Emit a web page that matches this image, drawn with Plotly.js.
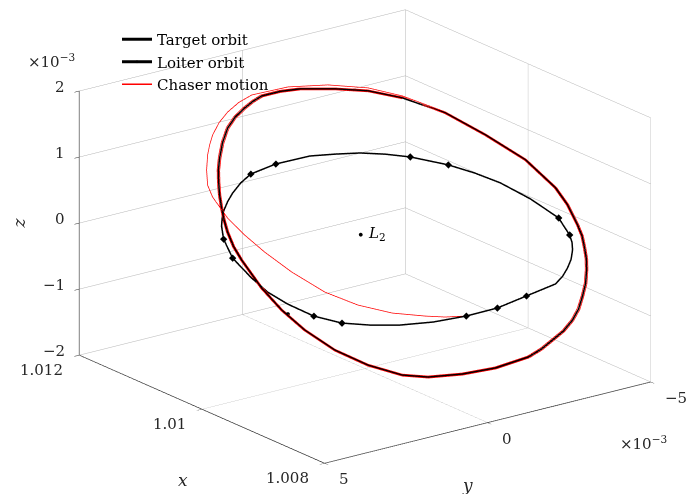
<!DOCTYPE html>
<html><head><meta charset="utf-8">
<script src="https://cdn.plot.ly/plotly-3.0.1.min.js"></script>
<style>html,body{margin:0;padding:0;background:#fff}#plot{width:686px;height:494px}</style>
</head><body><div id="plot"></div>
<script>
// ---- data (y and z in units of 1e-3, as shown on the axes) ----
var targetX = [1.010957,1.010789,1.010621,1.010424,1.010146,1.009848,1.009536,1.009258,1.009118,1.008974,1.008900,1.008830,1.008769,1.008715,1.008655,1.008610,1.008566,1.008542,1.008533,1.008542,1.008552,1.008576,1.008682,1.008811,1.008960,1.009094,1.009306,1.009536,1.009776,1.009982,1.010184,1.010414,1.010518,1.010616,1.010690,1.010760,1.010832,1.010899,1.010958,1.011010,1.011070,1.011115,1.011132,1.011130,1.011122,1.011106,1.011041,1.010957];
var targetY = [0.197,-0.564,-1.262,-1.938,-2.736,-3.406,-4.049,-4.447,-4.554,-4.590,-4.588,-4.534,-4.474,-4.379,-4.235,-4.057,-3.852,-3.622,-3.327,-3.007,-2.686,-2.332,-1.515,-0.744,0.022,0.568,1.216,1.798,2.268,2.587,2.823,3.004,3.055,3.055,3.022,2.968,2.894,2.798,2.694,2.559,2.354,2.114,1.851,1.564,1.331,1.086,0.654,0.197];
var targetZ = [1.868,1.843,1.796,1.687,1.476,1.182,0.852,0.493,0.279,0.030,-0.106,-0.252,-0.386,-0.519,-0.682,-0.831,-0.985,-1.114,-1.240,-1.341,-1.442,-1.529,-1.639,-1.688,-1.701,-1.658,-1.514,-1.309,-1.047,-0.789,-0.509,-0.157,0.012,0.191,0.338,0.485,0.644,0.801,0.946,1.090,1.276,1.447,1.575,1.677,1.750,1.810,1.851,1.868];

var loiterX = [1.010784,1.010712,1.010587,1.010476,1.010362,1.010236,1.010102,1.009882,1.009718,1.009546,1.009325,1.009099,1.008965,1.008917,1.008878,1.008840,1.008816,1.008799,1.008797,1.008878,1.008960,1.009070,1.009200,1.009344,1.009488,1.009632,1.009800,1.009982,1.010136,1.010280,1.010467,1.010602,1.010674,1.010707,1.010736,1.010762,1.010779,1.010789,1.010784];
var loiterY = [2.030,1.397,0.586,0.026,-0.528,-1.060,-1.578,-2.331,-2.823,-3.297,-3.804,-4.241,-4.326,-4.312,-4.255,-4.137,-3.984,-3.798,-3.579,-2.840,-2.102,-1.356,-0.585,0.159,0.811,1.401,1.946,2.402,2.728,2.949,3.181,3.205,3.131,3.052,2.951,2.779,2.593,2.329,2.030];
var loiterZ = [0.875,0.979,1.051,1.056,1.052,1.020,0.969,0.846,0.731,0.592,0.377,0.128,-0.085,-0.177,-0.268,-0.382,-0.482,-0.581,-0.667,-0.791,-0.916,-0.991,-1.040,-1.053,-1.032,-0.988,-0.884,-0.721,-0.562,-0.381,-0.127,0.109,0.268,0.358,0.448,0.559,0.659,0.774,0.875];
var loiterMarkerIdx = [0,1,6,7,11,12,19,20,21,25,26,30,31];

// chaser: transfer arc from the loiter orbit, then two passes close to the target orbit
var chaserX = [1.009070,1.009166,1.009267,1.009440,1.009642,1.009862,1.010117,1.010342,1.010520,1.010683,1.010856,1.010938,1.011014,1.011082,1.011120,1.011154,1.011182,1.011192,1.011185,1.011158,1.011024,1.010842,1.010635,1.010434,
 1.010149,1.009848,1.009534,1.009254,1.009113,1.008968,1.008894,1.008823,1.008762,1.008708,1.008647,1.008602,1.008557,1.008533,1.008524,1.008533,1.008543,1.008568,1.008674,1.008804,1.008954,1.009089,1.009303,1.009534,1.009776,1.009983,1.010187,1.010418,1.010523,1.010622,1.010696,1.010767,1.010839,1.010907,1.010966,1.011019,1.011079,1.011124,1.011141,1.011139,1.011131,1.011115,1.011050,1.010965,1.010796,1.010627,1.010428,
 1.010144,1.009848,1.009538,1.009262,1.009123,1.008980,1.008906,1.008837,1.008776,1.008723,1.008663,1.008618,1.008575,1.008551,1.008542,1.008551,1.008561,1.008584,1.008690,1.008818,1.008966,1.009099,1.009309,1.009538,1.009776,1.009981,1.010181,1.010410,1.010513,1.010610,1.010684,1.010753,1.010825,1.010891,1.010950,1.011001,1.011061,1.011106,1.011123,1.011121,1.011113,1.011097,1.011032,1.010949,1.010782,1.010615,1.010420];
var chaserY = [-1.356,-0.891,-0.465,0.225,0.891,1.490,2.026,2.432,2.712,2.928,3.064,3.064,2.950,2.792,2.659,2.503,2.249,1.969,1.644,1.294,0.439,-0.448,-1.289,-1.956,
 -2.750,-3.425,-4.072,-4.473,-4.581,-4.618,-4.616,-4.561,-4.500,-4.405,-4.260,-4.080,-3.874,-3.643,-3.346,-3.023,-2.700,-2.343,-1.521,-0.745,0.027,0.577,1.230,1.815,2.289,2.610,2.847,3.029,3.082,3.081,3.048,2.993,2.919,2.822,2.717,2.582,2.375,2.133,1.869,1.579,1.345,1.098,0.663,0.203,-0.563,-1.266,-1.946,
 -2.722,-3.387,-4.025,-4.421,-4.527,-4.563,-4.561,-4.507,-4.447,-4.353,-4.210,-4.033,-3.830,-3.602,-3.309,-2.991,-2.672,-2.320,-1.510,-0.744,0.017,0.560,1.203,1.780,2.248,2.564,2.798,2.978,3.029,3.028,2.996,2.942,2.869,2.773,2.670,2.536,2.332,2.094,1.834,1.548,1.317,1.073,0.645,0.191,-0.564,-1.258,-1.929];
var chaserZ = [-0.991,-0.988,-0.962,-0.902,-0.782,-0.602,-0.337,-0.077,0.143,0.360,0.624,0.773,0.955,1.135,1.254,1.373,1.520,1.640,1.747,1.829,1.900,1.896,1.832,1.711,
 1.486,1.190,0.858,0.496,0.281,0.030,-0.107,-0.255,-0.390,-0.524,-0.687,-0.837,-0.992,-1.122,-1.249,-1.351,-1.453,-1.541,-1.651,-1.701,-1.713,-1.670,-1.525,-1.319,-1.054,-0.795,-0.513,-0.159,0.011,0.192,0.340,0.488,0.648,0.806,0.952,1.098,1.284,1.457,1.585,1.688,1.761,1.822,1.864,1.880,1.855,1.808,1.699,
 1.466,1.174,0.847,0.490,0.278,0.031,-0.104,-0.250,-0.383,-0.515,-0.676,-0.824,-0.977,-1.105,-1.231,-1.331,-1.431,-1.518,-1.627,-1.676,-1.688,-1.646,-1.503,-1.300,-1.039,-0.783,-0.505,-0.155,0.012,0.190,0.337,0.482,0.640,0.796,0.940,1.083,1.267,1.438,1.564,1.666,1.738,1.798,1.839,1.855,1.831,1.784,1.676];

var dotX = [1.009934], dotY = [2.493], dotZ = [-0.842];
var l2X = [1.01007], l2Y = [0], l2Z = [0];

var xRange = [1.008, 1.012], yRange = [-5, 5], zRange = [-2, 2];
var xTicks = [1.008, 1.010, 1.012], xTickText = ['1.008','1.01','1.012'];
var yTicks = [-5, 0, 5],            yTickText = ['\u22125','0','5'];
var zTicks = [-2, -1, 0, 1, 2],     zTickText = ['\u22122','\u22121','0','1','2'];
var expText = '\u00d710<sup>\u22123</sup>';

// ---- traces ----
var FONT = 'DejaVu Serif';
var TXT = '#262626';
var mX = [], mY = [], mZ = [];
loiterMarkerIdx.forEach(function(i){ mX.push(loiterX[i]); mY.push(loiterY[i]); mZ.push(loiterZ[i]); });

var traces = [
  {type:'scatter3d', mode:'lines', name:'Target orbit', x:targetX, y:targetY, z:targetZ,
   line:{color:'#000000', width:3}},
  {type:'scatter3d', mode:'lines', showlegend:false,
   x:loiterX, y:loiterY, z:loiterZ, line:{color:'#000000', width:3}},
  {type:'scatter3d', mode:'markers', showlegend:false,
   x:mX, y:mY, z:mZ, marker:{symbol:'diamond', size:2.4, color:'#000000'}},
  // legend entry for the loiter orbit (a single marker point drawn over an existing one)
  {type:'scatter3d', mode:'lines+markers', name:'Loiter orbit',
   x:mX.slice(0,1), y:mY.slice(0,1), z:mZ.slice(0,1), line:{color:'#000000', width:3},
   marker:{symbol:'diamond', size:2.4, color:'#000000'}},
  {type:'scatter3d', mode:'lines', name:'Chaser motion', x:chaserX, y:chaserY, z:chaserZ,
   line:{color:'#ff0000', width:1.5}},
  {type:'scatter3d', mode:'markers', showlegend:false, x:dotX, y:dotY, z:dotZ,
   marker:{symbol:'circle', size:2.4, color:'#000000'}},
  {type:'scatter3d', mode:'markers', showlegend:false, x:l2X, y:l2Y, z:l2Z,
   marker:{symbol:'circle', size:2.2, color:'#000000'}}
];

function ax(range, tv){
  return {range:range, tickvals:tv, autorange:false, showticklabels:false,
    title:{text:''},
    showgrid:true, gridcolor:'#b4b4b4', gridwidth:1,
    zeroline:false, showbackground:false, showspikes:false,
    showline:true, linecolor:'#262626', linewidth:1.5,
    ticks:'outside', ticklen:6, tickcolor:'#262626', tickwidth:1};
}

// tick labels, titles and exponents as scene annotations (placed by the 3D projection)
var ann = [];
function a(x, y, z, text, xanchor, xshift, yshift, extra){
  var o = {x:x, y:y, z:z, text:text, showarrow:false, xanchor:xanchor, yanchor:'middle',
    xshift:xshift, yshift:yshift, font:{family:FONT, size:15, color:TXT}};
  for (var k in extra) o[k] = extra[k];
  ann.push(o);
}
xTicks.forEach(function(v, i){ a(v, yRange[1], zRange[0], xTickText[i], 'right', -14, -15); });
yTicks.forEach(function(v, i){ a(xRange[0], v, zRange[0], yTickText[i], 'left', 12, -16); });
zTicks.forEach(function(v, i){ a(xRange[1], yRange[1], v, zTickText[i], 'right', -12, 4); });
a((xRange[0]+xRange[1])/2, yRange[1], zRange[0], '<i>x</i>', 'center', -19, -71, {font:{family:FONT, size:17, color:TXT}});
a(xRange[0], (yRange[0]+yRange[1])/2, zRange[0], '<i>y</i>', 'center', -20, -62, {font:{family:FONT, size:17, color:TXT}});
a(xRange[1], yRange[1], (zRange[0]+zRange[1])/2, '<i>z</i>', 'center', -60, 0, {textangle:-90, font:{family:FONT, size:17, color:TXT}});
a(xRange[1], yRange[1], zRange[1], expText, 'center', -28, 30);
a(xRange[0], yRange[0], zRange[0], expText, 'center', -7, -61);
a(l2X[0], l2Y[0], l2Z[0], '<i>L</i><sub>2</sub>', 'left', 5, 1, {font:{family:FONT, size:15, color:'#000000'}});

var m = 1.105, k = 1.7255;
var layout = {
  width:686, height:494,
  margin:{l:44, r:0, t:0, b:21},
  paper_bgcolor:'#ffffff',
  showlegend:true,
  legend:{x:0.1137, y:0.9514, xref:'paper', yref:'paper', yanchor:'top', xanchor:'left',
    bgcolor:'rgba(0,0,0,0)', borderwidth:0, tracegroupgap:0,
    font:{family:FONT, size:15, color:'#000000'}},
  scene:{
    xaxis:ax(xRange, xTicks),
    yaxis:ax(yRange, yTicks),
    zaxis:ax(zRange, zTicks),
    aspectmode:'manual', aspectratio:{x:k, y:k, z:0.686*k},
    camera:{projection:{type:'orthographic'}, up:{x:0,y:0,z:1}, center:{x:0,y:0,z:0},
      eye:{x:-0.7539*m, y:0.5670*m, z:0.3315*m}},
    bgcolor:'#ffffff',
    annotations:ann
  }
};

Plotly.newPlot('plot', traces, layout, {displayModeBar:false});
</script></body></html>
